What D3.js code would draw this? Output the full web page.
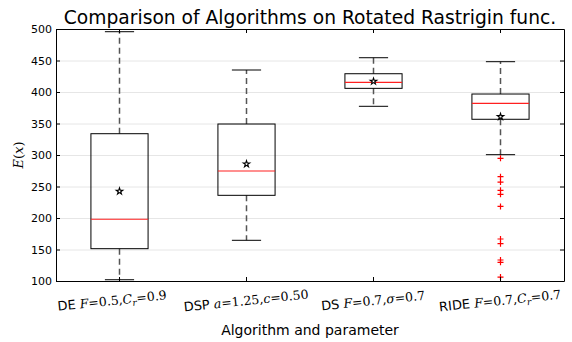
<!DOCTYPE html>
<html><head><meta charset="utf-8">
<script src="https://cdn.jsdelivr.net/npm/d3@7"></script>
<style>body{margin:0;background:#fff}svg{display:block}</style>
</head><body>
<svg id="c" width="572" height="342"></svg>
<script>
const categories = ["DE", "DSP", "DS", "RIDE"];
const whiskerLow  = [102.0, 164.6, 377.3, 300.5];
const q1          = [151.3, 236.0, 405.8, 356.7];
const medians     = [198.0, 274.6, 415.3, 382.0];
const q3          = [333.8, 349.2, 429.0, 396.8];
const whiskerHigh = [495.7, 434.9, 454.4, 448.1];
const means       = [242.4, 285.7, 416.9, 360.8];
const outliersDE   = [];
const outliersDSP  = [];
const outliersDS   = [];
const outliersRIDE = [294.8, 265.6, 257.1, 244.0, 237.6, 218.3, 166.7, 159.2, 133.3, 129.7, 106.3];
const yTicks = [100, 150, 200, 250, 300, 350, 400, 450, 500];
// x tick label parts: [plain prefix, math parts]; math part: [text, italic, subscript]
const labelParts = [
  ["DE", [["F",1,0],["=0.5,",0,0],["C",1,0],["r",1,1],["=0.9",0,0]]],
  ["DSP", [["a",1,0],["=1.25,",0,0],["c",1,0],["=0.50",0,0]]],
  ["DS", [["F",1,0],["=0.7,",0,0],["σ",1,0],["=0.7",0,0]]],
  ["RIDE", [["F",1,0],["=0.7,",0,0],["C",1,0],["r",1,1],["=0.7",0,0]]]
];
const title = "Comparison of Algorithms on Rotated Rastrigin func.";
const xTitle = "Algorithm and parameter";

const svg = d3.select("#c");
const L = 56, R = 564, T = 29, B = 281;
const x = d3.scaleBand().domain(categories).range([L, R]).padding(0);
const y = d3.scaleLinear().domain([100, 500]).range([B, T]);
const cx = c => x(c) + x.bandwidth() / 2;
const bw = x.bandwidth() * 0.45, cw = x.bandwidth() * 0.23;

// grid
svg.append("g").attr("transform", `translate(${L},0)`)
  .call(d3.axisLeft(y).tickValues(yTicks.slice(1, -1)).tickSize(-(R - L)).tickFormat(""))
  .call(g => g.select(".domain").remove())
  .call(g => g.selectAll("line").attr("stroke", "#e6e6e6").attr("stroke-width", 1));

const data = categories.map((c, i) => ({c, lo: whiskerLow[i], q1: q1[i], med: medians[i], q3: q3[i], hi: whiskerHigh[i], mean: means[i],
  out: [outliersDE, outliersDSP, outliersDS, outliersRIDE][i]}));

const g = svg.append("g");
data.forEach(d => {
  const X = cx(d.c);
  const dash = "6,4";
  g.append("line").attr("x1", X).attr("x2", X).attr("y1", y(d.q3)).attr("y2", y(d.hi))
    .attr("stroke", "#555").attr("stroke-width", 1.5).attr("stroke-dasharray", dash);
  g.append("line").attr("x1", X).attr("x2", X).attr("y1", y(d.q1)).attr("y2", y(d.lo))
    .attr("stroke", "#555").attr("stroke-width", 1.5).attr("stroke-dasharray", dash);
  [d.lo, d.hi].forEach(v => g.append("line").attr("x1", X - cw / 2).attr("x2", X + cw / 2)
    .attr("y1", y(v)).attr("y2", y(v)).attr("stroke", "#000").attr("stroke-width", 1));
  g.append("rect").attr("x", X - bw / 2).attr("width", bw).attr("y", y(d.q3)).attr("height", y(d.q1) - y(d.q3))
    .attr("fill", "none").attr("stroke", "#000").attr("stroke-width", 1);
  g.append("line").attr("x1", X - bw / 2).attr("x2", X + bw / 2).attr("y1", y(d.med)).attr("y2", y(d.med))
    .attr("stroke", "#ff2020").attr("stroke-width", 1.2);
  g.append("path").attr("d", d3.symbol(d3.symbolStar, 13)()).attr("transform", `translate(${X},${y(d.mean)})`)
    .attr("fill", "#fff").attr("stroke", "#000").attr("stroke-width", 1.1);
  d.out.forEach(v => g.append("path").attr("d", `M-3,0H3M0,-3V3`)
    .attr("transform", `translate(${X},${y(v)})`).attr("stroke", "#ff0000").attr("stroke-width", 1.2).attr("fill", "none"));
});

// axes
const ax = (gen, tr) => svg.append("g").attr("transform", tr).call(gen)
  .call(g => g.select(".domain").attr("stroke", "#000"))
  .call(g => g.selectAll(".tick line").attr("stroke", "#000"));
ax(d3.axisLeft(y).tickValues(yTicks).tickSize(-4).tickPadding(4).tickSizeOuter(0), `translate(${L},0)`)
  .call(g => g.selectAll("text").attr("font-family", "DejaVu Sans").attr("font-size", 11).attr("fill", "#000"));
ax(d3.axisRight(y).tickValues(yTicks).tickSize(-4).tickFormat("").tickSizeOuter(0), `translate(${R},0)`);
ax(d3.axisBottom(x).tickSize(-4).tickFormat("").tickSizeOuter(0), `translate(0,${B})`);
ax(d3.axisTop(x).tickSize(-4).tickFormat("").tickSizeOuter(0), `translate(0,${T})`);

// x labels
labelParts.forEach((p, i) => {
  const X = cx(categories[i]) + (i === 0 ? -7 : 0);
  const t = svg.append("text").attr("transform", `translate(${X},${B + 24}) rotate(-6)`)
    .attr("text-anchor", "middle").attr("font-size", 13).attr("font-family", "DejaVu Sans").attr("fill", "#000");
  t.append("tspan").text(p[0] + " ");
  let wasSub = false;
  p[1].forEach(([s, it, sub]) => {
    const ts = t.append("tspan").text(s).attr("font-family", "DejaVu Serif").attr("font-size", sub ? 9 : 12.5)
      .attr("font-style", it ? "italic" : "normal");
    if (sub) ts.attr("dy", 3); else if (wasSub) ts.attr("dy", -3);
    wasSub = !!sub;
  });
});

svg.append("text").attr("x", (L + R) / 2).attr("y", 335).attr("text-anchor", "middle")
  .attr("font-family", "DejaVu Sans").attr("font-size", 14).text(xTitle);
svg.append("text").attr("x", (L + R) / 2).attr("y", 24).attr("text-anchor", "middle")
  .attr("font-family", "DejaVu Sans").attr("font-size", 18.7).text(title);
const yl = svg.append("text").attr("transform", `translate(23,${(T + B) / 2}) rotate(-90)`).attr("text-anchor", "middle")
  .attr("font-family", "DejaVu Serif").attr("font-size", 13);
yl.append("tspan").attr("font-style", "italic").text("E");
yl.append("tspan").text("(");
yl.append("tspan").attr("font-style", "italic").text("x");
yl.append("tspan").text(")");
</script>
</body></html>
